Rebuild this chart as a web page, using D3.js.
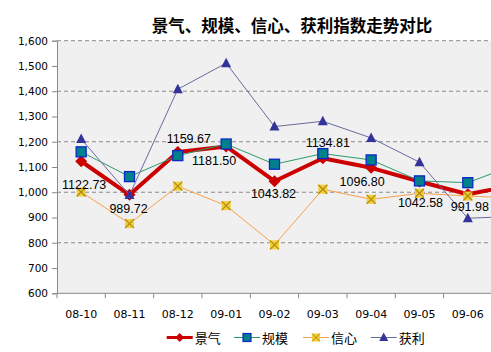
<!DOCTYPE html>
<html><head><meta charset="utf-8">
<script src="https://cdn.jsdelivr.net/npm/d3@7"></script>
<style>body{margin:0;background:#fff}svg{display:block}</style>
</head><body>
<script>
const categories = ["08-10","08-11","08-12","09-01","09-02","09-03","09-04","09-05","09-06","09-07"];
const jingqi = [1122.73, 989.72, 1159.67, 1181.50, 1043.82, 1134.81, 1096.80, 1042.58, 991.98, 1030];
const guimo  = [1160, 1062, 1145, 1191, 1111, 1153, 1128, 1045, 1038, 1110];
const xinxin = [1001, 876, 1024, 947, 792, 1012, 972, 996, 985, 977];
const huoli  = [1211, 989, 1408, 1511, 1260, 1281, 1215, 1119, 897, 905];
const yTicks = [600,700,800,900,1000,1100,1200,1300,1400,1500,1600];
const seriesNames = ["景气","规模","信心","获利"];
const titleText = "景气、规模、信心、获利指数走势对比";

const W = 491, H = 352;
const svg = d3.select("body").append("svg").attr("width", W).attr("height", H);
const L = 57, T = 40.7, B = 293.3, step = 48.33;
const x = d3.scaleBand().domain(categories).range([L, L + step * categories.length]).padding(0);
const y = d3.scaleLinear().domain([600,1600]).range([B, T]);
const cx = c => x(c) + x.bandwidth()/2;

// plot background
svg.append("rect").attr("x", L).attr("y", T).attr("width", x.range()[1]-L).attr("height", B-T).attr("fill", "#f0f0f0");

// gridlines
svg.append("g").selectAll("line").data(yTicks.filter(v => v > 600 && v % 200 === 0)).join("line")
  .attr("x1", L).attr("x2", x.range()[1]).attr("y1", d => y(d)).attr("y2", d => y(d))
  .attr("stroke", "#8a8a8a").attr("stroke-width", 1).attr("stroke-dasharray", "4,3");

// y axis
const yAxis = d3.axisLeft(y).tickValues(yTicks).tickSize(5).tickPadding(4).tickFormat(d3.format(","));
const gy = svg.append("g").attr("transform", `translate(${L},0)`).call(yAxis);
gy.select(".domain").attr("stroke", "#8a8a8a");
gy.selectAll(".tick line").attr("stroke", "#8a8a8a");
gy.selectAll("text").attr("font-family", "DejaVu Sans, Verdana, sans-serif").attr("font-size", "10.5px").attr("fill", "#000");

// x axis
const xAxis = d3.axisBottom(x).tickSize(0).tickPadding(15);
const gx = svg.append("g").attr("transform", `translate(0,${B})`).call(xAxis);
gx.select(".domain").attr("stroke", "#8a8a8a").attr("d", `M${L},0H${x.range()[1]}`);
gx.selectAll("text").attr("font-family", "DejaVu Sans, Verdana, sans-serif").attr("font-size", "11px").attr("fill", "#000").attr("dy", "0.35em").attr("y", 20.5);
// the last category lies beyond the visible frame; hide its label
gx.selectAll(".tick").filter(d => cx(d) > W).remove();
svg.append("g").selectAll("line").data(categories).join("line")
  .attr("x1", d => x(d)).attr("x2", d => x(d)).attr("y1", B).attr("y2", B + 5)
  .attr("stroke", "#8a8a8a");

const line = d3.line().x((d,i) => cx(categories[i])).y(d => y(d));

// series styles
const styles = [
  {data: jingqi, color: "#cc0000", width: 4, marker: "diamond"},
  {data: guimo,  color: "#2e9a6a", width: 1, marker: "square"},
  {data: xinxin, color: "#f7a04a", width: 1, marker: "x"},
  {data: huoli,  color: "#6a6a9e", width: 1, marker: "triangle"}
];

function drawMarker(g, type, px, py) {
  if (type === "diamond") {
    g.append("path").attr("d", `M${px},${py-6}L${px+6},${py}L${px},${py+6}L${px-6},${py}Z`).attr("fill", "#cc0000");
  } else if (type === "square") {
    g.append("rect").attr("x", px-5).attr("y", py-5).attr("width", 10).attr("height", 10)
      .attr("fill", "#00808a").attr("stroke", "#0a28c8").attr("stroke-width", 1.3);
  } else if (type === "x") {
    g.append("rect").attr("x", px-4.5).attr("y", py-4.5).attr("width", 9).attr("height", 9).attr("fill", "#f2cf3a");
    g.append("path").attr("d", `M${px-4.5},${py-4.5}L${px+4.5},${py+4.5}M${px+4.5},${py-4.5}L${px-4.5},${py+4.5}`)
      .attr("stroke", "#b08a10").attr("stroke-width", 1.2);
  } else if (type === "triangle") {
    g.append("path").attr("d", `M${px},${py-5.5}L${px+5},${py+4}L${px-5},${py+4}Z`).attr("fill", "#333399");
  }
}

styles.forEach(s => {
  const g = svg.append("g");
  g.append("path").datum(s.data).attr("d", line).attr("fill", "none")
    .attr("stroke", s.color).attr("stroke-width", s.width).attr("stroke-linejoin", "round");
  s.data.forEach((v,i) => drawMarker(g, s.marker, cx(categories[i]), y(v)));
});

// data labels for 景气
const labelOffsets = [[3,24],[-1,14],[11,-13],[-12,15],[-1,13],[5,-15],[-9,14],[1,21],[2,13]];
svg.append("g").selectAll("text").data(jingqi.slice(0, labelOffsets.length)).join("text")
  .attr("x", (d,i) => cx(categories[i]) + labelOffsets[i][0])
  .attr("y", (d,i) => y(d) + labelOffsets[i][1])
  .attr("text-anchor", "middle").attr("dominant-baseline", "central")
  .attr("font-family", "Liberation Sans, Arial, sans-serif").attr("font-size", "12.5px").attr("fill", "#000")
  .text(d => d3.format(".2f")(d));

// title
svg.append("text").attr("x", 292).attr("y", 25).attr("text-anchor", "middle").attr("dominant-baseline", "central")
  .attr("font-family", "Noto Sans CJK SC, sans-serif").attr("font-weight", "bold").attr("font-size", "16.5px")
  .attr("fill", "#000").text(titleText);

// legend
const legendX = [166.7, 234, 303, 370.7];
const ly = 337.5;
seriesNames.forEach((n,i) => {
  const g = svg.append("g");
  const s = styles[i];
  g.append("line").attr("x1", legendX[i]).attr("x2", legendX[i] + 26).attr("y1", ly).attr("y2", ly)
    .attr("stroke", s.color).attr("stroke-width", i === 0 ? 3 : 1);
  const mx = legendX[i] + 13;
  if (s.marker === "diamond") {
    g.append("path").attr("d", `M${mx},${ly-4.5}L${mx+4.5},${ly}L${mx},${ly+4.5}L${mx-4.5},${ly}Z`).attr("fill", "#cc0000");
  } else if (s.marker === "square") {
    g.append("rect").attr("x", mx-4).attr("y", ly-4).attr("width", 8).attr("height", 8)
      .attr("fill", "#00808a").attr("stroke", "#0a28c8").attr("stroke-width", 1.2);
  } else if (s.marker === "x") {
    g.append("rect").attr("x", mx-4).attr("y", ly-4).attr("width", 8).attr("height", 8).attr("fill", "#f2cf3a");
    g.append("path").attr("d", `M${mx-4},${ly-4}L${mx+4},${ly+4}M${mx+4},${ly-4}L${mx-4},${ly+4}`).attr("stroke", "#b08a10");
  } else {
    g.append("path").attr("d", `M${mx},${ly-5}L${mx+4.5},${ly+3.5}L${mx-4.5},${ly+3.5}Z`).attr("fill", "#333399");
  }
  g.append("text").attr("x", legendX[i] + 28).attr("y", ly).attr("dominant-baseline", "central")
    .attr("font-family", "Noto Sans CJK SC, sans-serif").attr("font-size", "13px").attr("fill", "#000").text(n);
});
</script>
</body></html>
